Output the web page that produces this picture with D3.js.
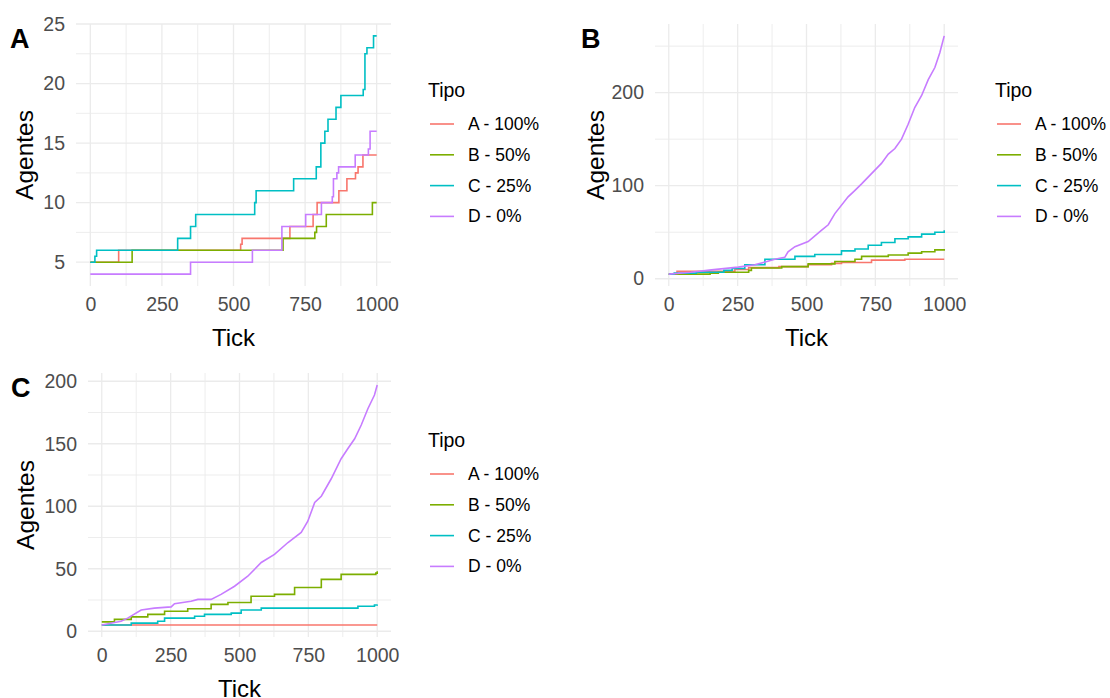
<!DOCTYPE html>
<html>
<head>
<meta charset="UTF-8">
<style>
  body { margin: 0; background: #fff; }
  svg { font-family: "Liberation Sans", Arial, sans-serif; }
</style>
</head>
<body>
<svg></svg>
<script src="https://d3js.org/d3.v7.min.js"></script>
<script>
const width = 1110, height = 698;

const tipos = ["A - 100%", "B - 50%", "C - 25%", "D - 0%"];
const colores = ["#F8766D", "#7CAE00", "#00BFC4", "#C77CFF"];
const xTicks = [0, 250, 500, 750, 1000];
const xMinor = [125, 375, 625, 875];

// panel A (steps)
const tickA_a = [0, 99, 525, 530, 697, 778, 792, 868, 896, 926, 935, 952, 1000];
const agA_a   = [5, 6, 6.5, 7, 8, 9, 10, 11, 12, 12.5, 13, 14, 14];
const tickA_b = [0, 146, 673, 784, 790, 824, 985, 1000];
const agA_b   = [5, 6, 7, 7.5, 8, 9, 10, 10];
const tickA_c = [0, 16, 22, 305, 350, 368, 574, 579, 710, 789, 805, 819, 830, 858, 875, 953, 959, 966, 989, 1000];
const agA_c   = [5, 5.5, 6, 7, 8, 9, 10, 11, 12, 13, 15, 16, 17, 18, 19, 19.5, 22.5, 23, 24, 24];
const tickA_d = [0, 350, 566, 669, 752, 807, 845, 849, 861, 867, 925, 971, 977, 1000];
const agA_d   = [4, 5, 6, 8, 9, 10, 10.5, 12, 12.5, 13, 14, 14.5, 16, 16];

// panel B
const tickB_a = [0, 30, 240, 290, 400, 506, 591, 627, 736, 857, 1000];
const agB_a   = [5, 8, 10, 12, 13, 15, 16.5, 17.5, 20, 21, 21];
const tickB_b = [0, 150, 180, 290, 300, 410, 506, 603, 676, 700, 797, 869, 918, 966, 1000];
const agB_b   = [5, 6, 7, 9, 11.5, 13, 16, 18.5, 21, 24, 25.5, 27.5, 29, 31, 32];
const tickB_c = [0, 20, 100, 200, 230, 276, 349, 458, 530, 627, 676, 724, 772, 821, 869, 918, 966, 1000];
const agB_c   = [5, 6, 7, 9, 11, 15, 21, 24, 26, 30, 32, 36, 39, 43, 45, 48, 50, 52];
const tickB_d = [0, 80, 155, 252, 312, 350, 385, 421, 433, 458, 506, 554, 579, 603, 651, 676, 700, 736, 772, 797, 821, 845, 869, 893, 918, 942, 966, 984, 1000];
const agB_d   = [5, 7, 9.5, 12.5, 15, 18, 21, 23, 29, 34.5, 40, 52, 58, 70, 88, 95, 102, 113, 124, 134, 140, 150, 166, 184, 197, 214, 227, 243, 261];

// panel C
const tickC_a = [0, 1000];
const agC_a   = [5, 5];
const tickC_b = [0, 46, 107, 167, 228, 312, 397, 458, 542, 627, 700, 797, 869, 995, 1000];
const agC_b   = [7.5, 9.5, 11.5, 13.5, 16, 18, 21.5, 23, 28, 29.5, 35, 41.5, 45.5, 46.5, 48];
const tickC_c = [0, 107, 203, 228, 337, 373, 470, 506, 579, 651, 930, 990, 1000];
const agC_c   = [5, 6.5, 8, 10.5, 12, 13.5, 14.5, 17, 18.5, 18.5, 20, 21, 21.5];
const tickC_d = [0, 70, 94, 143, 191, 252, 264, 324, 349, 397, 433, 482, 530, 579, 627, 676, 724, 748, 773, 797, 833, 869, 893, 918, 942, 966, 990, 1000];
const agC_d   = [5, 8, 10.5, 17, 18.5, 19.5, 22, 24, 25.5, 25.5, 29.5, 36, 44, 55, 61.5, 71, 79, 88, 103, 108, 122, 138, 146, 154, 165, 178, 189, 197];

const paneles = [
  { tag: "A", left: 0, box: [76, 24, 391, 286], yTicks: [5, 10, 15, 20, 25], yMinor: [7.5, 12.5, 17.5, 22.5],
    series: [[tickA_a, agA_a], [tickA_b, agA_b], [tickA_c, agA_c], [tickA_d, agA_d]], lineal: [] },
  { tag: "B", left: 571, box: [655, 24, 958, 286], yTicks: [0, 100, 200], yMinor: [50, 150, 250],
    series: [[tickB_a, agB_a], [tickB_b, agB_b], [tickB_c, agB_c], [tickB_d, agB_d]], lineal: [3] },
  { tag: "C", left: 1, box: [88, 373, 391, 637], yTicks: [0, 50, 100, 150, 200], yMinor: [25, 75, 125, 175],
    series: [[tickC_a, agC_a], [tickC_b, agC_b], [tickC_c, agC_c], [tickC_d, agC_d]], lineal: [3] }
];

const svg = d3.select("svg")
  .attr("width", width)
  .attr("height", height)
  .attr("viewBox", "0 0 " + width + " " + height);

svg.append("rect").attr("width", width).attr("height", height).attr("fill", "#fff");

paneles.forEach(p => {
  const [x0, y0, x1, y1] = p.box;
  const g = svg.append("g");

  const x = d3.scaleLinear().domain([-50, 1050]).range([x0, x1]);
  const todos = p.series.flatMap(s => s[1]);
  const [mn, mx] = d3.extent(todos);
  const pad = (mx - mn) * 0.05;
  const y = d3.scaleLinear().domain([mn - pad, mx + pad]).range([y1, y0]);

  // grid
  g.selectAll(".minx").data(xMinor).join("line")
    .attr("x1", d => x(d)).attr("x2", d => x(d)).attr("y1", y0).attr("y2", y1)
    .attr("stroke", "#EBEBEB").attr("stroke-width", 0.9);
  g.selectAll(".miny").data(p.yMinor).join("line")
    .attr("y1", d => y(d)).attr("y2", d => y(d)).attr("x1", x0).attr("x2", x1)
    .attr("stroke", "#EBEBEB").attr("stroke-width", 0.9);
  g.selectAll(".majx").data(xTicks).join("line")
    .attr("x1", d => x(d)).attr("x2", d => x(d)).attr("y1", y0).attr("y2", y1)
    .attr("stroke", "#EBEBEB").attr("stroke-width", 1.3);
  g.selectAll(".majy").data(p.yTicks).join("line")
    .attr("y1", d => y(d)).attr("y2", d => y(d)).attr("x1", x0).attr("x2", x1)
    .attr("stroke", "#EBEBEB").attr("stroke-width", 1.3);

  // axes
  const ax = g.append("g").attr("transform", "translate(0," + y1 + ")")
    .call(d3.axisBottom(x).tickValues(xTicks).tickFormat(d3.format("d")).tickSize(0).tickPadding(11));
  const ay = g.append("g").attr("transform", "translate(" + x0 + ",0)")
    .call(d3.axisLeft(y).tickValues(p.yTicks).tickFormat(d3.format("d")).tickSize(0).tickPadding(11));
  [ax, ay].forEach(a => {
    a.select(".domain").remove();
    a.selectAll("text").attr("fill", "#4D4D4D").style("font-size", "19.5px")
      .style("font-family", "'Liberation Sans', Arial, sans-serif");
  });

  // lines
  p.series.forEach((s, i) => {
    const pts = s[0].map((t, k) => [t, s[1][k]]);
    const line = d3.line()
      .x(d => x(d[0])).y(d => y(d[1]))
      .curve(p.lineal.includes(i) ? d3.curveLinear : d3.curveStepAfter);
    g.append("path").datum(pts)
      .attr("d", line)
      .attr("fill", "none")
      .attr("stroke", colores[i])
      .attr("stroke-width", 1.6);
  });

  // titles
  g.append("text").attr("x", (x(0) + x(1000)) / 2).attr("y", y1 + 60)
    .attr("text-anchor", "middle").style("font-size", "24px").text("Tick");
  g.append("text")
    .attr("transform", "translate(" + (p.left + 24) + "," + ((y0 + y1) / 2) + ") rotate(-90)")
    .attr("text-anchor", "middle").attr("dominant-baseline", "central")
    .style("font-size", "24.5px").text("Agentes");
  g.append("text").attr("x", p.left + 10).attr("y", y0 + 24)
    .style("font-size", "27px").style("font-weight", "bold").text(p.tag);

  // legend
  const lx = x1 + 37, cy = (y0 + y1) / 2;
  const lg = g.append("g");
  lg.append("text").attr("x", lx).attr("y", cy - 58).style("font-size", "19.5px").text("Tipo");
  tipos.forEach((t, i) => {
    const ly = cy - 31 + i * 30.8;
    lg.append("line").attr("x1", lx + 2).attr("x2", lx + 26).attr("y1", ly).attr("y2", ly)
      .attr("stroke", colores[i]).attr("stroke-width", 1.6);
    lg.append("text").attr("x", lx + 40).attr("y", ly).attr("dominant-baseline", "central")
      .style("font-size", "17.5px").text(t);
  });
});
</script>
</body>
</html>
